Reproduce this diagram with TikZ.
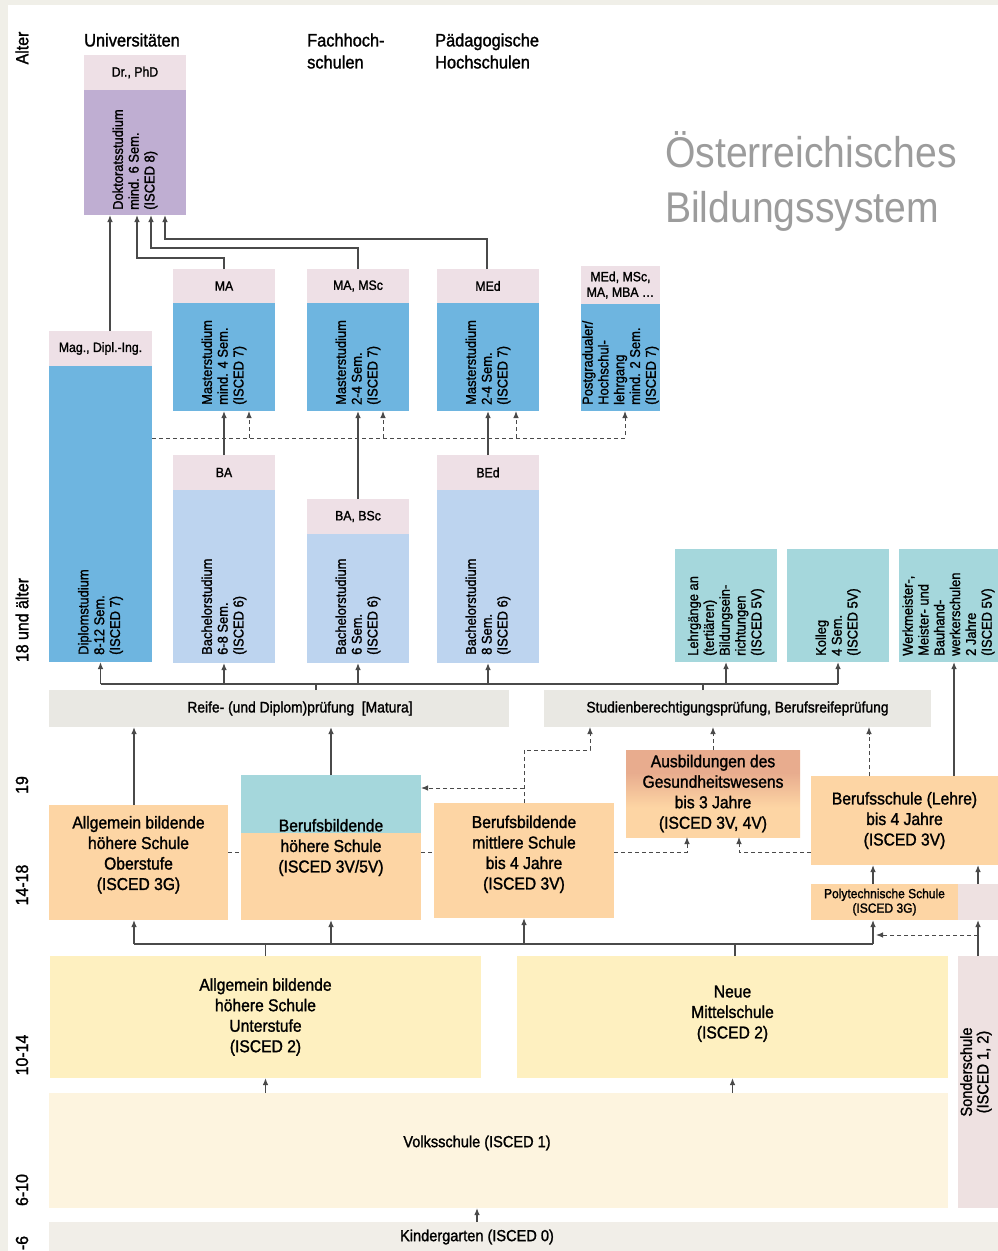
\documentclass[tikz,border=0pt]{standalone}
\usepackage{fontspec}
\setmainfont{Liberation Sans}[FakeStretch=0.91,FakeBold=1.4]
\newfontfamily\titlefont{Liberation Sans}[FakeStretch=0.91]
\usetikzlibrary{arrows.meta}

\definecolor{bgc}{HTML}{F0EFE8}
\definecolor{hdrpink}{HTML}{EEE0E6}
\definecolor{purp}{HTML}{BFAED2}
\definecolor{bluedk}{HTML}{6EB5E0}
\definecolor{bluelt}{HTML}{BDD4EF}
\definecolor{tealc}{HTML}{A5D7DC}
\definecolor{barg}{HTML}{E9E8E3}
\definecolor{orng}{HTML}{FDD5A4}
\definecolor{salmon}{HTML}{E8AC8E}
\definecolor{ylw}{HTML}{FEF0C0}
\definecolor{ylwlt}{HTML}{FDF4DF}
\definecolor{sonder}{HTML}{EEE1E1}
\definecolor{kiga}{HTML}{F1EEE8}
\definecolor{linec}{HTML}{4A4A4A}
\definecolor{titlec}{HTML}{9C9C9C}
\pgfdeclareverticalshading{gesund}{100bp}{color(0bp)=(orng); color(42bp)=(orng); color(62bp)=(salmon); color(100bp)=(salmon)}

\begin{document}
\begin{tikzpicture}[x=1pt,y=-1pt]
\tikzstyle{box}=[rectangle,inner sep=0pt,outer sep=0pt,align=center]
\tikzstyle{hdr}=[box,fill=hdrpink,font=\fontsize{13.5}{15.5}\selectfont]
\tikzstyle{vtext}=[rotate=90,anchor=west,align=left,inner sep=0pt,font=\fontsize{14.2}{15.8}\selectfont]
\tikzstyle{school}=[box,fill=orng,font=\fontsize{17.2}{20.5}\selectfont]
\tikzstyle{bar}=[box,fill=barg,minimum height=37pt,font=\fontsize{15.2}{17}\selectfont]
\tikzstyle{age}=[rotate=90,inner sep=0pt,font=\fontsize{17.5}{19}\selectfont]
\tikzstyle{head}=[inner sep=0pt,align=left,font=\fontsize{18}{22}\selectfont]
\tikzstyle{ln}=[draw=linec,line width=1.2pt]
\tikzstyle{arr}=[ln,-{Latex[length=7pt,width=5.5pt]}]
\tikzstyle{dln}=[ln,line width=1pt,dash pattern=on 4pt off 3pt]
\tikzstyle{dsh}=[dln,-{Latex[length=7pt,width=5.5pt]}]
\useasboundingbox (0,0) rectangle (998,1251);
\fill[bgc] (0,0) rectangle (998,1251);
\fill[white] (8,5) rectangle (998,1251);
% ages and headings
\node[age] (a1) at (22,48) {Alter};
\node[age] (a2) at (22,620) {18 und älter};
\node[age] (a3) at (22,785) {19};
\node[age] (a4) at (22,885) {14-18};
\node[age] (a5) at (22,1055) {10-14};
\node[age] (a6) at (22,1190) {6-10};
\node[age] (a7) at (22,1243) {-6};
\node[head] (h1) at (132,40) {Universitäten};
\node[head,anchor=west] (h2) at (307,51) {Fachhoch-\\schulen};
\node[head,anchor=west] (h3) at (435,51) {Pädagogische\\Hochschulen};
\node[inner sep=0pt,align=left,anchor=west,text=titlec,font=\titlefont\fontsize{43}{55}\selectfont] (h4) at (665,181) {Österreichisches\\Bildungssystem};
% hochschulen
\node[hdr,minimum width=102pt,minimum height=35pt] (1) at (135,72.5) {Dr., PhD};
\node[box,fill=purp,minimum width=102pt,minimum height=125pt] (2) at (135,152.5) {};
\node[vtext] (2a) at ([yshift=5pt]2.south) {Doktoratsstudium\\mind. 6 Sem.\\(ISCED 8)};
\node[hdr,minimum width=103pt,minimum height=35pt] (3) at (100.5,348.5) {Mag., Dipl.-Ing.};
\node[box,fill=bluedk,minimum width=103pt,minimum height=296pt] (4) at (100.5,514) {};
\node[vtext] (4a) at ([yshift=7pt]4.south) {Diplomstudium\\8-12 Sem.\\(ISCED 7)};
\node[hdr,minimum width=102pt,minimum height=34pt] (5) at (224,286) {MA};
\node[box,fill=bluedk,minimum width=102pt,minimum height=108pt] (6) at (224,357) {};
\node[vtext] (6a) at ([yshift=6pt]6.south) {Masterstudium\\mind. 4 Sem.\\(ISCED 7)};
\node[hdr,minimum width=102pt,minimum height=34pt] (7) at (358,286) {MA, MSc};
\node[box,fill=bluedk,minimum width=102pt,minimum height=108pt] (8) at (358,357) {};
\node[vtext] (8a) at ([yshift=6pt]8.south) {Masterstudium\\2-4 Sem.\\(ISCED 7)};
\node[hdr,minimum width=102pt,minimum height=34pt] (9) at (488,286) {MEd};
\node[box,fill=bluedk,minimum width=102pt,minimum height=108pt] (10) at (488,357) {};
\node[vtext] (10a) at ([yshift=6pt]10.south) {Masterstudium\\2-4 Sem.\\(ISCED 7)};
\node[hdr,minimum width=79pt,minimum height=38pt] (11) at (620.5,285) {MEd, MSc,\\MA, MBA …};
\node[box,fill=bluedk,minimum width=79pt,minimum height=107pt] (12) at (620.5,357.5) {};
\node[vtext] (12a) at ([yshift=6pt]12.south) {Postgradualer/\\Hochschul-\\lehrgang\\mind. 2 Sem.\\(ISCED 7)};
\node[hdr,minimum width=102pt,minimum height=35pt] (13) at (224,472.5) {BA};
\node[box,fill=bluelt,minimum width=102pt,minimum height=173pt] (14) at (224,576.5) {};
\node[vtext] (14a) at ([yshift=8pt]14.south) {Bachelorstudium\\6-8 Sem.\\(ISCED 6)};
\node[hdr,minimum width=102pt,minimum height=35pt] (15) at (358,516.5) {BA, BSc};
\node[box,fill=bluelt,minimum width=102pt,minimum height=129pt] (16) at (358,598.5) {};
\node[vtext] (16a) at ([yshift=8pt]16.south) {Bachelorstudium\\6 Sem.\\(ISCED 6)};
\node[hdr,minimum width=102pt,minimum height=35pt] (17) at (488,472.5) {BEd};
\node[box,fill=bluelt,minimum width=102pt,minimum height=173pt] (18) at (488,576.5) {};
\node[vtext] (18a) at ([yshift=8pt]18.south) {Bachelorstudium\\8 Sem.\\(ISCED 6)};
\node[box,fill=tealc,minimum width=102pt,minimum height=113pt] (19) at (726,605.5) {};
\node[vtext] (19a) at ([yshift=6pt]19.south) {Lehrgänge an\\(tertiären)\\Bildungsein-\\richtungen\\(ISCED 5V)};
\node[box,fill=tealc,minimum width=102pt,minimum height=113pt] (20) at (838,605.5) {};
\node[vtext] (20a) at ([yshift=6pt]20.south) {Kolleg\\4 Sem.\\(ISCED 5V)};
\node[box,fill=tealc,minimum width=99pt,minimum height=113pt] (21) at (948.5,605.5) {};
\node[vtext] (21a) at ([yshift=6pt]21.south) {Werkmeister-,\\Meister- und\\Bauhand-\\werkerschulen\\2 Jahre\\(ISCED 5V)};
% pruefungen
\node[bar,minimum width=460pt] (22) at (279,708.5) {};
\node[inner sep=0pt,font=\fontsize{15.2}{17}\selectfont] (22a) at (300,708.5) {Reife- (und Diplom)prüfung~~[Matura]};
\node[bar,minimum width=387pt] (23) at (737.5,708.5) {Studienberechtigungsprüfung, Berufsreifeprüfung};
% sekundarstufe II
\node[school,minimum width=179pt,minimum height=115pt,text depth=19pt] (24) at (138.5,862.5) {Allgemein bildende\\höhere Schule\\Oberstufe\\(ISCED 3G)};
\node[school,minimum width=180pt,minimum height=145pt,path picture={\fill[tealc] (path picture bounding box.north west) rectangle ([yshift=-58pt]path picture bounding box.north east);}] (25) at (331,847.5) {Berufsbildende\\höhere Schule\\(ISCED 3V/5V)};
\node[school,minimum width=180pt,minimum height=115pt,text depth=16pt] (26) at (524,860.5) {Berufsbildende\\mittlere Schule\\bis 4 Jahre\\(ISCED 3V)};
\node[school,shade,shading=gesund,minimum width=174pt,minimum height=87pt] (27) at (713,793.5) {Ausbildungen des\\Gesundheitswesens\\bis 3 Jahre\\(ISCED 3V, 4V)};
\node[school,minimum width=187pt,minimum height=89pt] (28) at (904.5,820.5) {Berufsschule (Lehre)\\bis 4 Jahre\\(ISCED 3V)};
\node[school,minimum width=147pt,minimum height=36pt,font=\fontsize{13.2}{14.5}\selectfont] (29) at (884.5,902) {Polytechnische Schule\\(ISCED 3G)};
\node[box,fill=sonder,minimum width=40pt,minimum height=36pt] (30) at (978,902) {};
% sekundarstufe I und primar
\node[school,fill=ylw,minimum width=431pt,minimum height=122pt] (31) at (265.5,1017) {Allgemein bildende\\höhere Schule\\Unterstufe\\(ISCED 2)};
\node[school,fill=ylw,minimum width=431pt,minimum height=122pt,text depth=10pt] (32) at (732.5,1017) {Neue\\Mittelschule\\(ISCED 2)};
\node[box,fill=sonder,minimum width=40pt,minimum height=252pt] (33) at (978,1082) {};
\node[rotate=90,inner sep=0pt,align=center,font=\fontsize{16}{16.5}\selectfont] (33a) at ([xshift=-2pt,yshift=10pt]33.center) {Sonderschule\\(ISCED 1, 2)};
\node[box,fill=ylwlt,minimum width=899pt,minimum height=115pt] (34) at (498.5,1150.5) {};
\node[inner sep=0pt,font=\fontsize{16}{20}\selectfont] (34a) at (477,1143) {Volksschule (ISCED 1)};
\node[box,fill=kiga,minimum width=949pt,minimum height=29pt] (35) at (523.5,1236.5) {};
\node[inner sep=0pt,font=\fontsize{16}{20}\selectfont] (35a) at (477,1237) {Kindergarten (ISCED 0)};
% connectors up to the doctorate
\draw[arr] ([xshift=9.5pt]3.north) -- ([xshift=-25pt]2.south);
\draw[arr] (5.north) -- ++(0,-11) -| ([xshift=2pt]2.south);
\draw[arr] (7.north) -- ++(0,-21) -| ([xshift=16pt]2.south);
\draw[arr] ([xshift=-1pt]9.north) -- ++(0,-30) -| ([xshift=30pt]2.south);
\draw[arr] (13.north) -- (6.south);
\draw[arr] (15.north) -- (8.south);
\draw[arr] (17.north) -- (10.south);
\coordinate (d) at (152,438);
\draw[dsh] (d) -| ([xshift=4.5pt]12.south);
\draw[dsh] ([xshift=25pt]6.south |- d) -- ([xshift=25pt]6.south);
\draw[dsh] ([xshift=25pt]8.south |- d) -- ([xshift=25pt]8.south);
\draw[dsh] ([xshift=28pt]10.south |- d) -- ([xshift=28pt]10.south);
% from the exams
\coordinate (r) at (0,684);
\draw[ln] (4.south |- r) -- (20.south |- r);
\draw[ln] ([xshift=37pt]22.north) -- ([xshift=37pt]22.north |- r);
\draw[ln] ([xshift=-34.5pt]23.north) -- ([xshift=-34.5pt]23.north |- r);
\foreach \n in {4,14,16,18,19,20} \draw[arr] (\n.south |- r) -- (\n.south);
\draw[arr] ([xshift=49.5pt]28.north) -- ([xshift=49.5pt]28.north |- 21.south);
% into the exams
\draw[arr] ([xshift=-4.5pt]24.north) -- ([xshift=-4.5pt]24.north |- 22.south);
\draw[arr] (25.north) -- (25.north |- 22.south);
\coordinate (b) at (0,788);
\draw[dsh] (26.north) -- ++(0,-53) -| ([xshift=-147.5pt]23.south);
\draw[dsh] (26.north |- b) -- (25.east |- b);
\draw[dsh] (27.north) -- (27.north |- 23.south);
\draw[dsh] ([xshift=-35.5pt]28.north) -- ([xshift=-35.5pt]28.north |- 23.south);
\coordinate (c) at (0,852);
\draw[dln] (24.east |- c) -- (25.west |- c);
\draw[dln] (25.east |- c) -- (26.west |- c);
\draw[dsh] (26.east |- c) -| ([xshift=-26pt]27.south);
\draw[dsh] (28.west |- c) -| ([xshift=26pt]27.south);
\draw[arr] ([xshift=-11.5pt]29.north) -- ([xshift=-11.5pt]29.north |- 28.south);
\draw[arr] (30.north) -- (30.north |- 28.south);
% after the lower level
\coordinate (e) at (0,944);
\draw[ln] ([xshift=-4.5pt]24.south |- e) -- ([xshift=-11.5pt]29.south |- e);
\draw[arr] ([xshift=-4.5pt]24.south |- e) -- ([xshift=-4.5pt]24.south);
\draw[arr] (25.south |- e) -- (25.south);
\draw[arr] (26.south |- e) -- (26.south);
\draw[arr] ([xshift=-11.5pt]29.south |- e) -- ([xshift=-11.5pt]29.south);
\draw[ln] (31.north) -- (31.north |- e);
\draw[ln] ([xshift=2.5pt]32.north) -- ([xshift=2.5pt]32.north |- e);
\coordinate (f) at (0,935);
\draw[arr] (33.north) -- (30.south);
\draw[dsh] (33.north |- f) -- ([xshift=-8.5pt]29.south |- f);
\draw[arr] (34.north -| 31.south) -- (31.south);
\draw[arr] (34.north -| 32.south) -- (32.south);
\draw[arr] (35.north -| 35a) -- (34.south -| 35a);
\end{tikzpicture}
\end{document}
